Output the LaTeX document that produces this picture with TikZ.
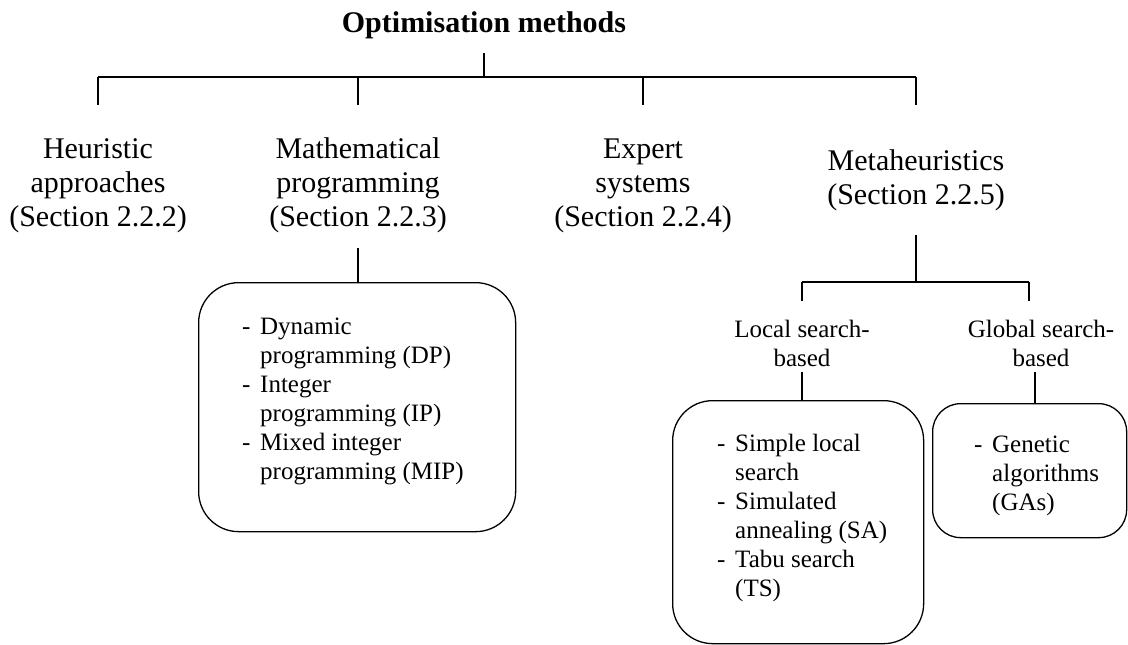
\documentclass[tikz,border=0pt]{standalone}
\usepackage{fontspec}
\setmainfont{Liberation Serif}
\newcommand\itemdash{\makebox[18pt][l]{-}}
\newcommand\itemind{\hspace*{18pt}}
\begin{document}
\begin{tikzpicture}[x=1pt,y=-1pt,
  wire/.style={line width=1.2pt},
  title/.style={inner sep=0, anchor=base, font=\fontsize{30}{34}\selectfont\bfseries},
  lbl/.style={inner sep=0, anchor=base, font=\fontsize{30}{34}\selectfont},
  sublbl/.style={inner sep=0, anchor=base, font=\fontsize{25}{29}\selectfont},
  lst/.style={inner sep=0, anchor=base west, font=\fontsize{25}{29}\selectfont},
  box/.style={draw, line width=1.3pt, inner sep=0, anchor=north west},
]
\useasboundingbox (0,0) rectangle (1128,645);

% root and first level
\node[title] (root) at (484,32) {Optimisation methods};
\coordinate (roottop) at (484,53);
\coordinate (bus) at (484,77);
\coordinate (busL) at (98,77);
\coordinate (busR) at (916,77);
\coordinate (t1) at (98,105);
\coordinate (t2) at (358,105);
\coordinate (t3) at (643,105);
\coordinate (t4) at (916,105);
\draw[wire] (roottop) -- (bus);
\draw[wire] (busL) -- (busR);
\draw[wire] (busL) -- (t1);
\draw[wire] (358,77) -- (t2);
\draw[wire] (643,77) -- (t3);
\draw[wire] (busR) -- (t4);

\node[lbl] (heur) at (98,158) {\begin{tabular}[t]{@{}c@{}}Heuristic\\approaches\\(Section 2.2.2)\end{tabular}};
\node[lbl] (math) at (358,158) {\begin{tabular}[t]{@{}c@{}}Mathematical\\programming\\(Section 2.2.3)\end{tabular}};
\node[lbl] (expert) at (643,158) {\begin{tabular}[t]{@{}c@{}}Expert\\systems\\(Section 2.2.4)\end{tabular}};
\node[lbl] (meta) at (916,170) {\begin{tabular}[t]{@{}c@{}}Metaheuristics\\(Section 2.2.5)\end{tabular}};

% mathematical programming
\node[box, rounded corners=40pt, minimum width=317pt, minimum height=249pt] (mathbox) at (198,282) {};
\coordinate (mathstub) at (358,248);
\draw[wire] (mathstub) -- (mathbox.north -| mathstub);
\node[lst] (mathlist) at (242,334) {\begin{tabular}[t]{@{}l@{}}\itemdash Dynamic\\\itemind programming (DP)\\\itemdash Integer\\\itemind programming (IP)\\\itemdash Mixed integer\\\itemind programming (MIP)\end{tabular}};

% metaheuristics
\coordinate (metastub) at (916,235);
\coordinate (metabus) at (916,282);
\coordinate (mbL) at (802,282);
\coordinate (mbR) at (1029,282);
\coordinate (mL) at (802,301);
\coordinate (mR) at (1029,301);
\draw[wire] (metastub) -- (metabus);
\draw[wire] (mbL) -- (mbR);
\draw[wire] (mbL) -- (mL);
\draw[wire] (mbR) -- (mR);

\node[sublbl] (local) at (802,337) {\begin{tabular}[t]{@{}c@{}}Local search-\\based\end{tabular}};
\node[sublbl] (global) at (1041,337) {\begin{tabular}[t]{@{}c@{}}Global search-\\based\end{tabular}};

\node[box, rounded corners=40pt, minimum width=251pt, minimum height=243pt] (localbox) at (672,400) {};
\coordinate (localstub) at (802,372);
\draw[wire] (localstub) -- (localbox.north -| localstub);
\node[lst] (locallist) at (717,451) {\begin{tabular}[t]{@{}l@{}}\itemdash Simple local\\\itemind search\\\itemdash Simulated\\\itemind annealing (SA)\\\itemdash Tabu search\\\itemind (TS)\end{tabular}};

\node[box, rounded corners=28pt, minimum width=194pt, minimum height=134pt] (globalbox) at (932,403) {};
\coordinate (globalstub) at (1035,372);
\draw[wire] (globalstub) -- (globalbox.north -| globalstub);
\node[lst] (globallist) at (974,452) {\begin{tabular}[t]{@{}l@{}}\itemdash Genetic\\\itemind algorithms\\\itemind (GAs)\end{tabular}};
\end{tikzpicture}
\end{document}
